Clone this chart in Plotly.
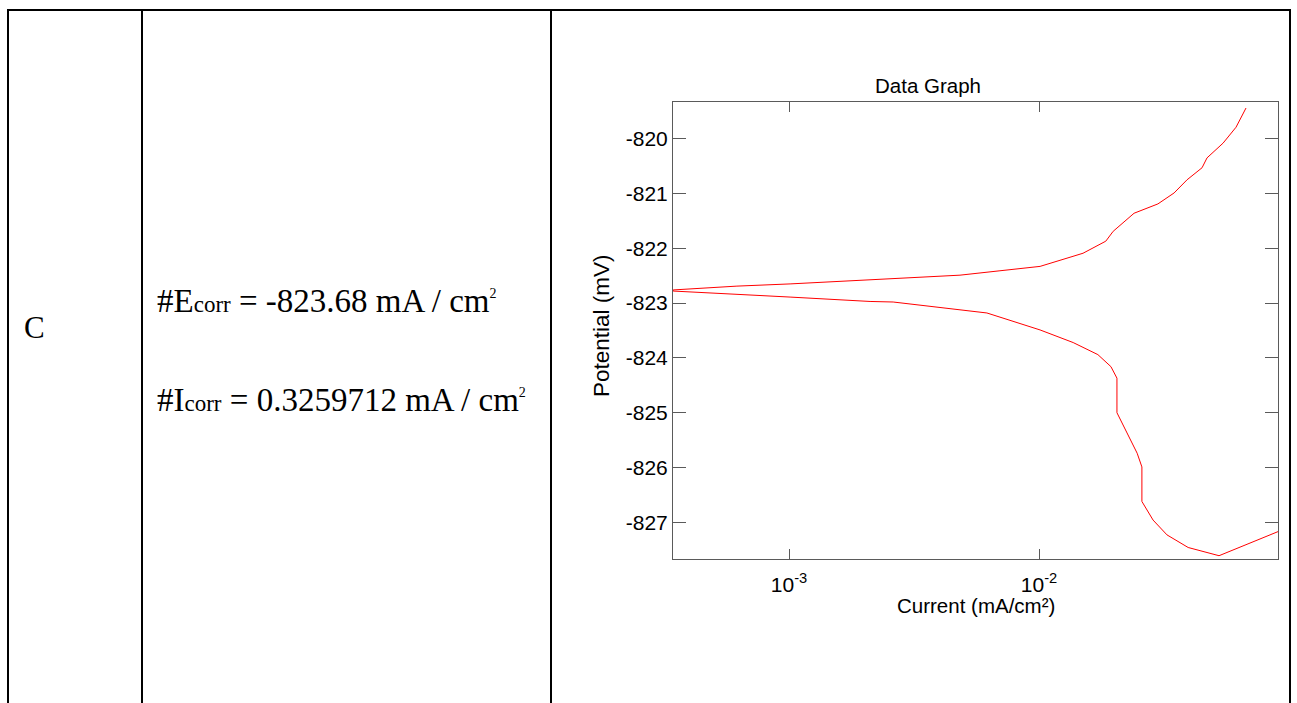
import plotly.graph_objects as go

# ---- data ----
current_cathodic = [9.04e-2, 5.25e-2, 3.95e-2, 3.25e-2, 2.86e-2, 2.58e-2, 2.58e-2, 2.47e-2,
                    2.25e-2, 2.05e-2, 2.05e-2, 1.94e-2, 1.72e-2, 1.37e-2, 1.01e-2, 6.98e-3,
                    6.19e-3, 2.61e-3, 2.11e-3, 1.01e-3, 5.30e-4, 3.44e-4]
potential_cathodic = [-827.17, -827.61, -827.46, -827.23, -826.96, -826.62, -825.99, -825.74,
                      -825.37, -825.00, -824.37, -824.16, -823.94, -823.72, -823.49, -823.25,
                      -823.18, -822.98, -822.97, -822.89, -822.82, -822.78]
current_anodic = [3.44e-4, 6.19e-4, 1.01e-3, 2.11e-3, 4.83e-3, 6.98e-3, 1.01e-2, 1.50e-2,
                  1.85e-2, 1.98e-2, 2.40e-2, 2.99e-2, 3.47e-2, 3.91e-2, 4.49e-2, 4.70e-2,
                  5.45e-2, 6.14e-2, 6.73e-2]
potential_anodic = [-822.76, -822.69, -822.65, -822.58, -822.49, -822.41, -822.33, -822.09,
                    -821.87, -821.69, -821.36, -821.19, -820.99, -820.75, -820.53, -820.35,
                    -820.08, -819.79, -819.44]

x_tickvals = [1e-3, 1e-2]
x_ticktext = ["10<sup>-3</sup>", "10<sup>-2</sup>"]
y_tickvals = [-827, -826, -825, -824, -823, -822, -821, -820]
y_ticktext = ["-827", "-826", "-825", "-824", "-823", "-822", "-821", "-820"]

row_label = "C"
ecorr_text = ("#E<span style='font-size:23px'>corr</span> = -823.68 mA / cm"
              "<sup><span style='font-size:14px'>2</span></sup>")
icorr_text = ("#I<span style='font-size:23px'>corr</span> = 0.3259712 mA / cm"
              "<sup><span style='font-size:14px'>2</span></sup>")

W, H = 1297, 703
def px(x):
    return x / W
def py(y):
    return 1 - y / H

fig = go.Figure()
fig.add_trace(go.Scatter(x=current_cathodic + current_anodic,
                         y=potential_cathodic + potential_anodic,
                         mode="lines", line=dict(color="#ff0000", width=1),
                         showlegend=False, hoverinfo="skip"))

axis_col = "#5a5a5a"
sans = "Liberation Sans"
serif = "Liberation Serif"

fig.update_layout(
    width=W, height=H,
    margin=dict(l=0, r=0, t=0, b=0),
    paper_bgcolor="white", plot_bgcolor="white",
    xaxis=dict(type="log", range=[-3.464, -1.044],
               domain=[px(673), px(1278)],
               tickvals=x_tickvals, ticktext=x_ticktext,
               ticks="inside", ticklen=10, tickwidth=1, tickcolor=axis_col,
               showline=True, linecolor=axis_col, linewidth=1, mirror="allticks",
               showgrid=False, zeroline=False, ticklabelstandoff=7,
               tickfont=dict(family=sans, size=21, color="black")),
    yaxis=dict(range=[-827.67, -819.33],
               domain=[py(559), py(102)],
               tickvals=y_tickvals, ticktext=y_ticktext,
               ticks="inside", ticklen=13, tickwidth=1, tickcolor=axis_col,
               showline=True, linecolor=axis_col, linewidth=1, mirror="allticks",
               showgrid=False, zeroline=False,
               tickfont=dict(family=sans, size=21, color="black")),
)

# table borders
lw = 2
shapes = [
    dict(type="line", xref="paper", yref="paper", x0=px(7), x1=px(1291), y0=py(10), y1=py(10),
         line=dict(color="black", width=lw)),
]
for xv in [8, 142, 551, 1290]:
    shapes.append(dict(type="line", xref="paper", yref="paper", x0=px(xv), x1=px(xv),
                       y0=py(9), y1=py(705), line=dict(color="black", width=lw)))
fig.update_layout(shapes=shapes)

ann = [
    dict(text="Data Graph", x=px(928), y=py(86), xanchor="center", yanchor="middle",
         font=dict(family=sans, size=20.5, color="black")),
    dict(text="Current (mA/cm²)", x=px(976), y=py(605), xanchor="center", yanchor="middle",
         font=dict(family=sans, size=20.5, color="black")),
    dict(text="Potential (mV)", x=px(601), y=py(326), xanchor="center", yanchor="middle",
         textangle=-90, font=dict(family=sans, size=22.5, color="black")),
    dict(text=row_label, x=px(22), y=py(328), xanchor="left", yanchor="middle",
         font=dict(family=serif, size=31, color="black")),
    dict(text=ecorr_text, x=px(155), y=py(301), xanchor="left", yanchor="middle",
         font=dict(family=serif, size=33, color="black")),
    dict(text=icorr_text, x=px(155), y=py(400), xanchor="left", yanchor="middle",
         font=dict(family=serif, size=33, color="black")),
]
for a in ann:
    a.update(xref="paper", yref="paper", showarrow=False)
fig.update_layout(annotations=ann)

fig.write_html("out.html")
